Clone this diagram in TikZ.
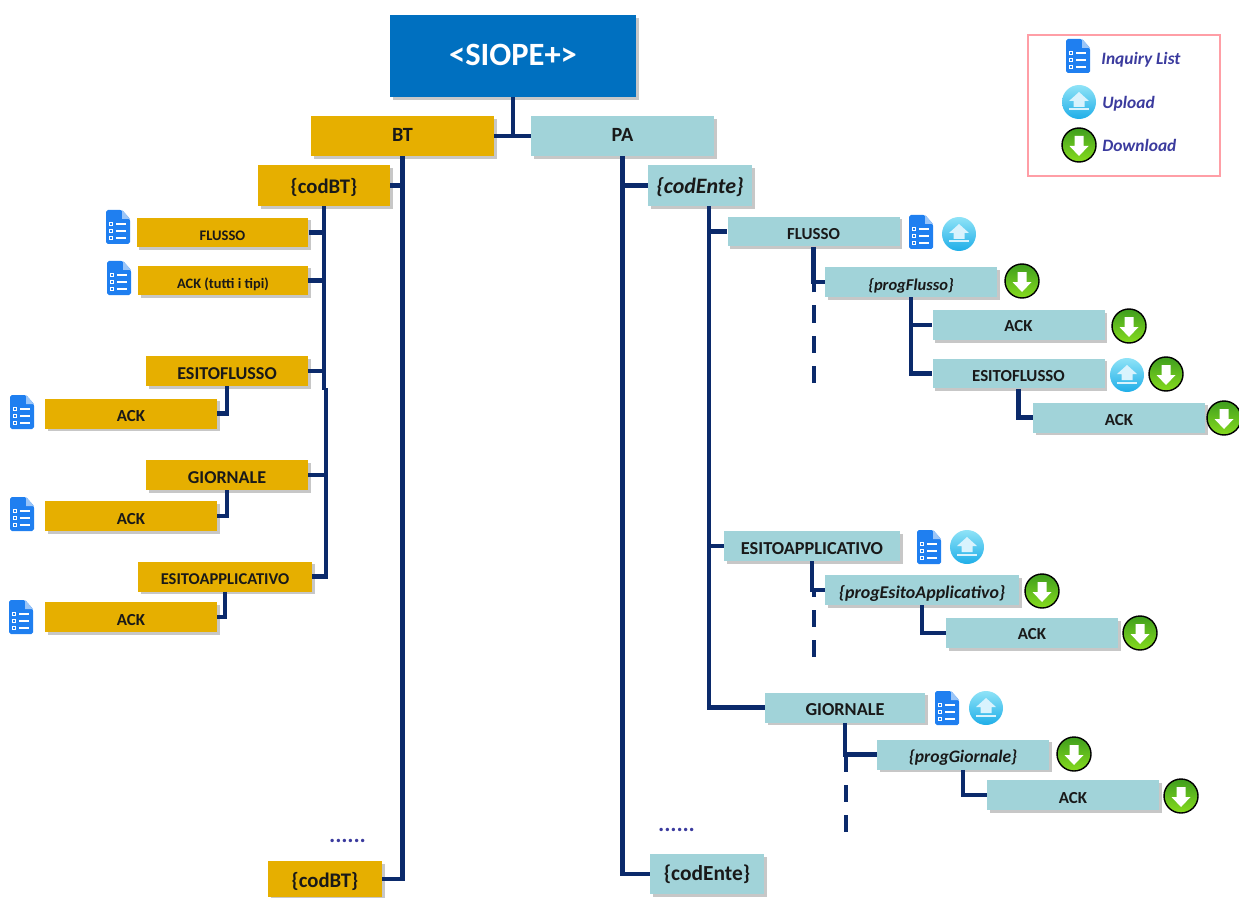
\documentclass[tikz,border=0pt]{standalone}
\usepackage{fontspec}
\setmainfont{Carlito}
\usetikzlibrary{shadows}

\definecolor{gold}{HTML}{E6AF00}
\definecolor{teal}{HTML}{A1D3D9}
\definecolor{siope}{HTML}{0070C0}
\definecolor{navy}{HTML}{0B2A6B}
\definecolor{indigo}{HTML}{3B3B9E}
\definecolor{pinkline}{HTML}{FF9EA6}
\definecolor{docblue}{HTML}{1F7FF0}
\definecolor{uptop}{HTML}{8FE3F7}
\definecolor{upbot}{HTML}{1FAEE8}
\definecolor{dntop}{HTML}{3F9E1E}
\definecolor{dnbot}{HTML}{86DB1E}

\tikzset{
  bx/.style={inner sep=0pt, text height=.92em, text depth=0pt, text=black!90, drop shadow={shadow xshift=1.5pt, shadow yshift=-1.5pt, fill=black!40, opacity=.55}},
  goldbx/.style={bx, fill=gold},
  tealbx/.style={bx, fill=teal},
  wbx/.style={minimum width=3.44cm, minimum height=0.6cm, font=\fontsize{9.6}{11}\bfseries},
  link/.style={draw=navy, line width=2.4pt},
  dashlink/.style={draw=navy, line width=2.4pt, dash pattern=on 9.8pt off 7.4pt},
  legendtxt/.style={inner sep=0pt, anchor=west, text=indigo, font=\fontsize{9.9}{11}\bfseries\itshape},
  doc/.pic={
    \fill[docblue, rounded corners=1pt] (-12,17) -- (-12,-17) -- (4,-17) -- (12,-8) -- (12,17) -- cycle;
    \fill[docblue!45] (4,-17) -- (4,-8) -- (12,-8) -- cycle;
    \foreach \r in {-3,4,11} {
      \draw[white, line width=.5pt] (-9,\r-1.5) rectangle (-6,\r+1.5);
      \draw[white, line width=.7pt] (-2,\r) -- (8,\r);
    }
  },
  up/.pic={
    \shade[top color=uptop, bottom color=upbot] (0,0) circle (17);
    \fill[white!85!cyan] (0,-10) -- (10,-1) -- (5.5,-1) -- (5.5,5) -- (-5.5,5) -- (-5.5,-1) -- (-10,-1) -- cycle;
    \fill[white!85!cyan] (-10,6.5) rectangle (10,8.5);
  },
  dn/.pic={
    \shade[draw=black, line width=.8pt, top color=dntop, bottom color=dnbot] (0,0) circle (17);
    \fill[white] (0,11) -- (9.5,1) -- (4.5,1) -- (4.5,-9) -- (-4.5,-9) -- (-4.5,1) -- (-9.5,1) -- cycle;
  }
}

\begin{document}
\begin{tikzpicture}[x=0.02cm,y=-0.02cm]
\useasboundingbox (0,0) rectangle (1239,898);

% testa
\node[bx, fill=siope, text=white, text height=1.1em, minimum width=4.92cm, minimum height=1.64cm, font=\fontsize{18.5}{20}\bfseries] (siope) at (513,56) {<SIOPE+>};
\node[goldbx, text height=.68em, minimum width=3.66cm, minimum height=0.8cm, font=\fontsize{11.5}{13}\bfseries] (bt) at (402.5,136) {BT};
\node[tealbx, text height=.68em, minimum width=3.66cm, minimum height=0.8cm, font=\fontsize{11.5}{13}\bfseries] (pa) at (622.5,136) {PA};

% ramo BT
\node[goldbx, minimum width=2.64cm, minimum height=0.82cm, font=\fontsize{11.8}{13}\bfseries] (codbta) at (324,185.5) {\{codBT\}};
\node[goldbx, wbx, font=\fontsize{8.3}{9}\bfseries] (flussol) at (222.5,232.5) {FLUSSO};
\node[goldbx, wbx, minimum width=3.4cm, font=\fontsize{8.2}{9}\bfseries] (ackall) at (223,280.5) {ACK (tutti i tipi)};
\node[goldbx, wbx, minimum width=3.24cm, font=\fontsize{10.3}{12}\bfseries] (esitol) at (227,371) {ESITOFLUSSO};
\node[goldbx, wbx] (ackla) at (131,413.5) {ACK};
\node[goldbx, wbx, minimum width=3.24cm, font=\fontsize{10.3}{12}\bfseries] (giornl) at (227,475) {GIORNALE};
\node[goldbx, wbx] (acklb) at (131,516) {ACK};
\node[goldbx, wbx, minimum width=3.48cm, font=\fontsize{9.4}{10}\bfseries] (appl) at (225,576.5) {ESITOAPPLICATIVO};
\node[goldbx, wbx] (acklc) at (131,617) {ACK};
\node[goldbx, minimum width=2.28cm, minimum height=0.72cm, font=\fontsize{11.8}{13}\bfseries] (codbtb) at (325,879) {\{codBT\}};

% ramo PA
\node[tealbx, minimum width=2.08cm, minimum height=0.82cm, font=\fontsize{12.5}{13}\bfseries\itshape] (codentea) at (700,185.5) {\{codEnte\}};
\node[tealbx, wbx] (flussor) at (813.5,231.5) {FLUSSO};
\node[tealbx, wbx, font=\fontsize{9.4}{10}\bfseries\itshape] (progfl) at (911,282) {\{progFlusso\}};
\node[tealbx, wbx, text height=.69em] (ackra) at (1018.5,325) {ACK};
\node[tealbx, wbx] (esitor) at (1018.5,373.5) {ESITOFLUSSO};
\node[tealbx, wbx] (ackrb) at (1119,417.5) {ACK};
\node[tealbx, wbx, minimum width=3.52cm, font=\fontsize{10.4}{11}\bfseries] (appr) at (812,546) {ESITOAPPLICATIVO};
\node[tealbx, wbx, minimum width=3.88cm, font=\fontsize{10.2}{11}\bfseries\itshape] (progap) at (922,590) {\{progEsitoApplicativo\}};
\node[tealbx, wbx, text height=.69em] (ackrc) at (1032,633) {ACK};
\node[tealbx, wbx, minimum width=3.2cm, font=\fontsize{10.4}{11}\bfseries] (giornr) at (845,707.5) {GIORNALE};
\node[tealbx, wbx, font=\fontsize{10}{11}\bfseries\itshape] (proggi) at (963,754.5) {\{progGiornale\}};
\node[tealbx, wbx] (ackrd) at (1073,795) {ACK};
\node[tealbx, text height=.74em, minimum width=2.28cm, minimum height=0.8cm, font=\fontsize{12.2}{13}\bfseries] (codenteb) at (707,874) {\{codEnte\}};

% punti
\node[inner sep=0pt, text=indigo, font=\fontsize{13}{13}\bfseries\itshape] (dotsl) at (348,841) {......};
\node[inner sep=0pt, text=indigo, font=\fontsize{13}{13}\bfseries\itshape] (dotsr) at (677,830) {......};

% collegamenti
\coordinate (jogl) at (324,390);
\coordinate (joglb) at (326,388);
\coordinate (entetop) at (709,206.5);
\coordinate (endfl) at (814,383);
\coordinate (endap) at (814,657);
\coordinate (endgi) at (846,832);

\draw[link] (siope.south) -- (siope.south |- bt.east);
\draw[link] (bt.east) -- (pa.west);
\draw[link] (bt.south) |- (codbtb.east);
\draw[link] (codbta.east) -- (codbta.east -| bt.south);
\draw[link] (pa.south) |- (codenteb.west);
\draw[link] (pa.south |- codentea.west) -- (codentea.west);

\draw[link] (codbta.south) -- (jogl);
\draw[link] (joglb) |- (appl.east);
\draw[link] (flussol.east) -- (flussol.east -| jogl);
\draw[link] (ackall.east) -- (ackall.east -| jogl);
\draw[link] (esitol.east) -- (esitol.east -| jogl);
\draw[link] (giornl.east) -- (giornl.east -| joglb);
\draw[link] (esitol.south) |- (ackla.east);
\draw[link] (giornl.south) |- (acklb.east);
\draw[link] (appl.south) |- (acklc.east);

\draw[link] (entetop) |- (giornr.west);
\draw[link] (entetop |- flussor.west) -- (flussor.west);
\draw[link] (entetop |- appr.west) -- (appr.west);
\draw[link] (flussor.south) |- (progfl.west);
\draw[link] (progfl.south) |- (esitor.west);
\draw[link] (progfl.south |- ackra.west) -- (ackra.west);
\draw[link] (esitor.south) |- (ackrb.west);
\draw[link] (appr.south) |- (progap.west);
\draw[link] (progap.south) |- (ackrc.west);
\draw[link] (giornr.south) |- (proggi.west);
\draw[link] (proggi.south) |- (ackrd.west);
\draw[dashlink] (endfl) -- (endfl |- progfl.west);
\draw[dashlink] (endap) -- (endap |- progap.west);
\draw[dashlink] (endgi) -- (endgi |- proggi.west);

% icone
\pic at (118,227) {doc};
\pic at (119,278) {doc};
\pic at (22,412) {doc};
\pic at (22,514) {doc};
\pic at (21,617) {doc};
\pic at (921,232) {doc};
\pic at (959,234) {up};
\pic at (1022,281) {dn};
\pic at (1129,326) {dn};
\pic at (1127,375) {up};
\pic at (1166,374) {dn};
\pic at (1224,418) {dn};
\pic at (929,547) {doc};
\pic at (967,547) {up};
\pic at (1042,591) {dn};
\pic at (1140,633) {dn};
\pic at (947,708) {doc};
\pic at (986,708) {up};
\pic at (1074,754) {dn};
\pic at (1181,796) {dn};

% legenda
\draw[pinkline, line width=1.2pt] (1028,35) rectangle (1220,176);
\pic at (1078,56) {doc};
\pic at (1079,102) {up};
\pic at (1079,145) {dn};
\node[legendtxt] (leginq) at (1101,59.5) {Inquiry List};
\node[legendtxt] (legup) at (1102,104) {Upload};
\node[legendtxt] (legdn) at (1102,145) {Download};

\end{tikzpicture}
\end{document}
